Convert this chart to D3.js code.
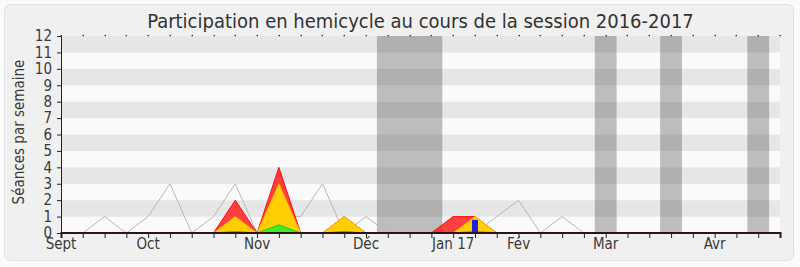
<!DOCTYPE html>
<html><head><meta charset="utf-8">
<script src="https://cdn.jsdelivr.net/npm/d3@7"></script>
<style>
html,body{margin:0;padding:0;background:#fafafa;}
svg{display:block;font-family:"DejaVu Sans Condensed","DejaVu Sans",sans-serif;}
</style></head>
<body>
<svg id="c" width="800" height="267"></svg>
<script>
const title = "Participation en hemicycle au cours de la session 2016-2017";
const yTitle = "Séances par semaine";
const weeks = d3.range(0, 34);
const monthLabels = ["Sept","Oct","Nov","Déc","Jan 17","Fév","Mar","Avr"];
const monthWeeks = [0, 4, 9, 14, 18, 21, 25, 30];
const yTicks = d3.range(0, 13);
const vacations = [[14.5,17.5],[24.5,25.5],[27.5,28.5],[31.5,32.5]];
// median line
const median = [0,0,1,0,1,3,0,1,3,0,1,1,3,0,1,0,0,0,0,0,1,2,0,1,0,0,0,0,0,0,0,0,0,0];
// presence (red), interventions (yellow), mots (green)
const presence = [0,0,0,0,0,0,0,0,2,0,4,0,0,1,0,0,0,0,1,1,0,0,0,0,0,0,0,0,0,0,0,0,0,0];
const interv   = [0,0,0,0,0,0,0,0,1,0,3,0,0,1,0,0,0,0,0,1,0,0,0,0,0,0,0,0,0,0,0,0,0,0];
const mots     = [0,0,0,0,0,0,0,0,0.1,0,0.5,0,0,0.1,0,0,0,0,0,0.1,0,0,0,0,0,0,0,0,0,0,0,0,0,0];
const questionsWeek = [19];
const questions = [0.8];

const svg = d3.select("#c");
const L=61, R=780, T=36, B=233;
const x = d3.scaleLinear().domain([0,33]).range([L,R]);
const y = d3.scaleLinear().domain([0,12]).range([B,T]);

svg.append("rect").attr("x",4.5).attr("y",4.5).attr("width",789).attr("height",256)
  .attr("rx",6).attr("fill","#f0f0f0").attr("stroke","#e2e2e2");

// bands
svg.append("g").selectAll("rect").data(d3.range(0,12)).join("rect")
  .attr("x",L).attr("width",R-L)
  .attr("y",d=>y(d+1)).attr("height",d=>y(d)-y(d+1))
  .attr("fill",d=>d%2===1?"#e6e6e6":"#fafafa");

// vacations
svg.append("g").selectAll("rect").data(vacations).join("rect")
  .attr("x",d=>x(d[0])).attr("width",d=>x(d[1])-x(d[0]))
  .attr("y",T).attr("height",B-T).attr("fill","rgba(90,90,90,0.38)");

// median
svg.append("path").datum(median)
  .attr("d",d3.line().x((d,i)=>x(weeks[i])).y(d=>y(d)))
  .attr("fill","none").attr("stroke","#b8b8b8").attr("stroke-width",1);

const area = d3.area().x((d,i)=>x(weeks[i])).y0(y(0)).y1(d=>y(d));
const line = d3.line().x((d,i)=>x(weeks[i])).y(d=>y(d));
function series(data, fill, stroke){
  svg.append("path").datum(data).attr("d",area).attr("fill",fill);
  svg.append("path").datum(data).attr("d",line).attr("fill","none").attr("stroke",stroke).attr("stroke-width",1);
}
series(presence,"rgba(255,30,30,0.85)","#ff1010");
series(interv,"rgba(255,215,0,0.95)","#ffb000");
series(mots,"rgba(40,240,40,0.9)","#22cc22");

// questions bars
svg.append("g").selectAll("rect").data(questions).join("rect")
  .attr("x",(d,i)=>x(questionsWeek[i])-3).attr("width",6)
  .attr("y",d=>y(d)).attr("height",d=>y(0)-y(d)).attr("fill","#2222dd");

// axes
const xa = svg.append("g").attr("transform",`translate(0,${B-0.5})`)
  .call(d3.axisBottom(x).tickValues(weeks).tickSize(5.5).tickFormat(""));
xa.select(".domain").attr("stroke","#2a1414").attr("stroke-width",2);
xa.selectAll(".tick line").attr("stroke","#222");
svg.append("g").selectAll("rect").data(weeks).join("rect")
  .attr("x",d=>Math.round(x(d))-0.5).attr("y",T-1).attr("width",1.5).attr("height",1.2).attr("fill","#333");
svg.append("g").selectAll("text").data(monthLabels).join("text")
  .attr("x",(d,i)=>x(monthWeeks[i])).attr("y",249).attr("text-anchor","middle")
  .attr("font-size",15).attr("fill","#3a3a3a").text(d=>d);

const ya = svg.append("g").attr("transform",`translate(${L},0)`)
  .call(d3.axisLeft(y).tickValues(yTicks).tickSize(4).tickFormat(d3.format("d")));
ya.select(".domain").attr("stroke","#222");
ya.selectAll(".tick line").attr("stroke","#222");
ya.selectAll(".tick text").attr("font-size",15).attr("fill","#3a3a3a").attr("x",-9)
  .attr("font-family","DejaVu Sans Condensed");

svg.append("text").attr("transform","translate(24,132) rotate(-90)").attr("text-anchor","middle")
  .attr("font-size",15).attr("fill","#3a3a3a").text(yTitle);
svg.append("text").attr("x",(L+R)/2).attr("y",28).attr("text-anchor","middle")
  .attr("font-size",20).attr("fill","#333").text(title);
</script>
</body></html>
